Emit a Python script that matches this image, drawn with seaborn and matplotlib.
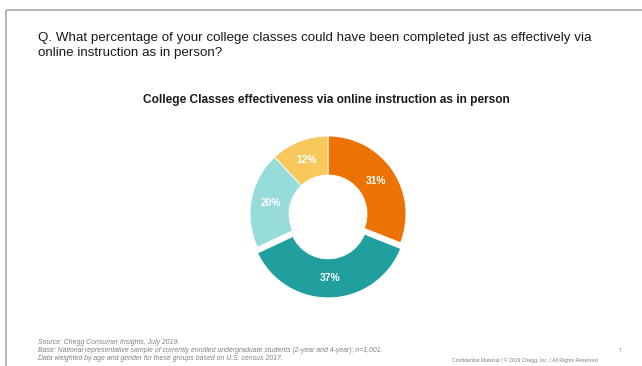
import matplotlib
matplotlib.use("Agg")
import matplotlib.pyplot as plt
import seaborn as sns

# Survey shares, clockwise from 12 o'clock
shares = [31, 37, 20, 12]
slice_colors = ["#EC7303", "#219E9E", "#97DBDB", "#F7C95C"]
pulled_out = [0, 1, 0, 0]

question = ("Q. What percentage of your college classes could have been completed just as effectively via\n"
            "online instruction as in person?")
chart_title = "College Classes effectiveness via online instruction as in person"
footnotes = [
    "Source: Chegg Consumer Insights, July 2019.",
    "Base: National representative sample of currently enrolled undergraduate students (2-year and 4-year); n=1,001.",
    "Data weighted by age and gender for these groups based on U.S. census 2017.",
]
legal = "Confidential Material / \u00a9 2019 Chegg, Inc. / All Rights Reserved"
page_no = "7"

sns.set_theme(style="white")
plt.rcParams["font.family"] = ["Liberation Sans", "DejaVu Sans"]

W, H = 642, 366
fig = plt.figure(figsize=(W / 100, H / 100), dpi=100)
fig.patch.set_facecolor("white")
# one axes spanning the page, one data unit per pixel, y measured downward
ax = fig.add_axes([0, 0, 1, 1])
ax.set_xlim(0, W)
ax.set_ylim(H, 0)
ax.set_axis_off()

# slide frame
ax.plot([6, 6], [H, 10], color="#b3b3b3", lw=1.4, solid_capstyle="butt")
ax.plot([6, W], [10, 10], color="#b3b3b3", lw=1.4, solid_capstyle="butt")

ax.text(38, 32.5, question, fontsize=9.6, color="#1a1a1a", va="top", ha="left", linespacing=1.3)
ax.text(326, 100, chart_title, fontsize=8.6, fontweight="bold", color="#1a1a1a",
        ha="center", va="center")

# donut drawn in its own axes
R = 78
cx, cy = 328, 214
pax = fig.add_axes([(cx - R - 10) / W, 1 - (cy + R + 10) / H, (2 * R + 20) / W, (2 * R + 20) / H])
pax.set_aspect("equal")
explode = [0.075 * p for p in pulled_out]
wedges, _, autotexts = pax.pie(
    shares, colors=slice_colors, startangle=90, counterclock=False,
    explode=explode, radius=1.0, pctdistance=0.75,
    autopct=lambda v: f"{v:.0f}%",
    wedgeprops=dict(width=0.5, edgecolor="white", linewidth=0.6),
    textprops=dict(color="white", fontsize=7.4, fontweight="bold"),
)
pax.set_xlim(-1 - 10 / R, 1 + 10 / R)
pax.set_ylim(-1 - 10 / R, 1 + 10 / R)
pax.set_axis_off()

for i, line in enumerate(footnotes):
    ax.text(38, 343 + 8 * i, line, fontsize=4.95, style="italic", color="#808080",
            ha="left", va="center")
ax.text(598, 360, legal, fontsize=3.7, color="#808080", ha="right", va="center")
ax.text(619, 350, page_no, fontsize=3.8, color="#808080", ha="left", va="center")

fig.savefig("out.png", dpi=100, facecolor="white")
